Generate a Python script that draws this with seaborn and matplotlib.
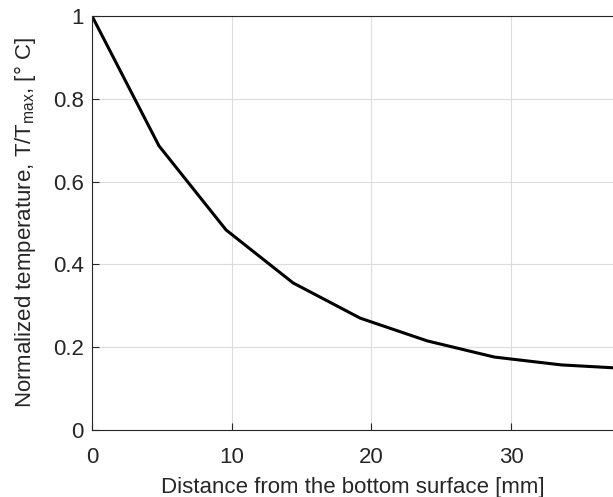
import pandas as pd
import matplotlib.pyplot as plt
import seaborn as sns

# Data
distance_mm = [0, 4.8, 9.6, 14.4, 19.2, 24.0, 28.8, 33.6, 38.4]
norm_temp = [1.0, 0.686, 0.483, 0.355, 0.27, 0.215, 0.176, 0.157, 0.148]

df = pd.DataFrame({"Distance": distance_mm, "T": norm_temp})

sns.set_style("whitegrid")
plt.rcParams["font.family"] = ["Liberation Sans", "DejaVu Sans"]
plt.rcParams["mathtext.fontset"] = "custom"
plt.rcParams["mathtext.rm"] = "Liberation Sans"

fig = plt.figure(figsize=(6.13, 4.97), dpi=100)
ax = fig.add_axes([0.150, 0.135, 0.85, 0.833])

sns.lineplot(data=df, x="Distance", y="T", color="black", linewidth=2.2, ax=ax)

ax.set_xlim(0, 37.3)
ax.set_ylim(0, 1)
ax.set_xticks([0, 10, 20, 30])
ax.set_yticks([0, 0.2, 0.4, 0.6, 0.8, 1.0])
ax.set_yticklabels(["0", "0.2", "0.4", "0.6", "0.8", "1"])

ax.grid(True, color="#dcdcdc", linewidth=0.8)
for side in ["left", "bottom", "top"]:
    ax.spines[side].set_color("#262626")
    ax.spines[side].set_linewidth(0.8)
ax.spines["right"].set_visible(False)

ax.tick_params(direction="in", length=5, width=0.8, colors="#262626",
               labelsize=16, top=False, left=True, bottom=True)
ax.tick_params(axis="x", pad=12)
ax.tick_params(axis="y", pad=6)
for lbl in ax.get_xticklabels() + ax.get_yticklabels():
    lbl.set_color("#262626")

ax.set_xlabel("Distance from the bottom surface [mm]", fontsize=16, color="#262626")
ax.set_ylabel("Normalized temperature, T/T$_\\mathregular{max}$, [° C]", fontsize=16, color="#262626")
ax.xaxis.set_label_coords(0.5, -0.113)
ax.yaxis.set_label_coords(-0.104, 0.5)

plt.savefig("out.png", dpi=100)
